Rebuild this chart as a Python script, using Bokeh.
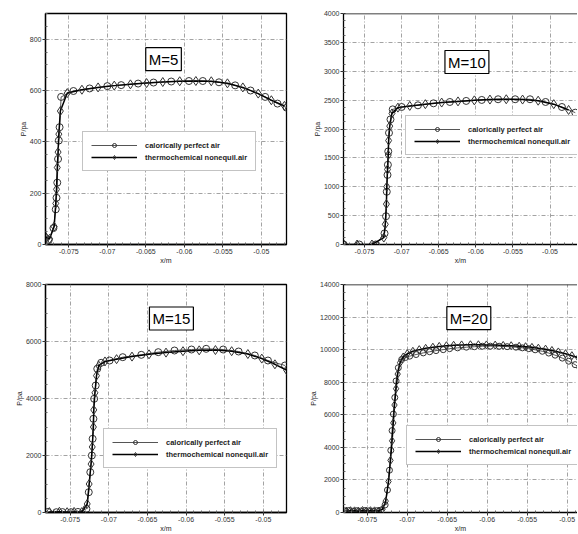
from bokeh.plotting import figure
from bokeh.layouts import row, column
from bokeh.models import Label, Legend, LegendItem, FixedTicker, Range1d, Span
from bokeh.embed import file_html
from bokeh.resources import INLINE
import numpy as np

# ---------------- data ----------------
series_names = ["calorically perfect air", "thermochemical nonequil.air"]
panel_titles = ["M=5", "M=10", "M=15", "M=20"]

x_ticks = [-0.075, -0.07, -0.065, -0.06, -0.055, -0.05]
x_tick_labels = ["-0.075", "-0.07", "-0.065", "-0.06", "-0.055", "-0.05"]
y_ticks_5 = [0, 200, 400, 600, 800]
y_ticks_10 = [0, 500, 1000, 1500, 2000, 2500, 3000, 3500, 4000]
y_ticks_15 = [0, 2000, 4000, 6000, 8000]
y_ticks_20 = [0, 2000, 4000, 6000, 8000, 10000, 12000, 14000]

# M = 5
x_cpa_5 = [-0.0780, -0.0776, -0.0770, -0.0767, -0.0766, -0.0765, -0.0764, -0.0763, -0.0762, -0.0760,
           -0.0744, -0.0723, -0.0700, -0.0682, -0.0660, -0.0640, -0.0617, -0.0594, -0.0576, -0.0555,
           -0.0534, -0.0514, -0.0495, -0.0479, -0.0467]
p_cpa_5 = [25, 18, 64, 137, 182, 241, 333, 405, 457, 575,
           598, 608, 617, 621, 627, 631, 635, 637, 637, 632,
           620, 600, 575, 549, 533]
x_tne_5 = [-0.0780, -0.0775, -0.0769, -0.0767, -0.0766, -0.0765, -0.0764, -0.0763, -0.0761, -0.0752,
           -0.0733, -0.0712, -0.0691, -0.0670, -0.0649, -0.0628, -0.0606, -0.0585, -0.0565, -0.0544,
           -0.0524, -0.0504, -0.0487, -0.0470]
p_tne_5 = [30, 22, 70, 160, 215, 300, 360, 430, 520, 590,
           603, 612, 619, 624, 629, 633, 636, 637, 636, 628,
           612, 588, 562, 540]

# M = 10
x_cpa_10 = [-0.0778, -0.0757, -0.0735, -0.0723, -0.0721, -0.0720, -0.0719, -0.07185, -0.0718, -0.0717,
            -0.0715, -0.0712, -0.0700, -0.0678, -0.0657, -0.0635, -0.0613, -0.0592, -0.0570, -0.0547,
            -0.0527, -0.0506, -0.0484, -0.0466]
p_cpa_10 = [0, 0, 0, 192, 489, 914, 1205, 1380, 1612, 1933,
            2166, 2340, 2381, 2410, 2445, 2468, 2486, 2503, 2515, 2515,
            2515, 2468, 2381, 2283]
x_tne_10 = [-0.0778, -0.0760, -0.0740, -0.0724, -0.0722, -0.07205, -0.0720, -0.0719, -0.0718, -0.07175,
            -0.0716, -0.0713, -0.0705, -0.0689, -0.0668, -0.0646, -0.0624, -0.0602, -0.0581, -0.0559,
            -0.0537, -0.0516, -0.0495, -0.0475]
p_tne_10 = [0, 0, 0, 120, 350, 700, 1000, 1300, 1550, 1800,
            2050, 2270, 2370, 2400, 2430, 2458, 2478, 2496, 2510, 2515,
            2510, 2490, 2430, 2330]

# M = 15
x_cpa_15 = [-0.0779, -0.0768, -0.0760, -0.0749, -0.0740, -0.0729, -0.0726, -0.0724, -0.0722, -0.0721,
            -0.0720, -0.0719, -0.0717, -0.0715, -0.0710, -0.0699, -0.0682, -0.0658, -0.0636, -0.0615,
            -0.0593, -0.0574, -0.0552, -0.0532, -0.0511, -0.0494, -0.0472]
p_cpa_15 = [20, 10, 15, 10, 20, 130, 712, 1414, 2000, 2586,
            3288, 3990, 4456, 5042, 5253, 5333, 5450, 5532, 5626, 5684,
            5719, 5743, 5719, 5649, 5509, 5333, 5158]
x_tne_15 = [-0.0777, -0.0764, -0.0754, -0.0745, -0.0735, -0.0728, -0.07255, -0.0723, -0.07215, -0.0720,
            -0.07195, -0.0718, -0.0716, -0.0713, -0.0705, -0.0690, -0.0670, -0.0648, -0.0626, -0.0604,
            -0.0583, -0.0562, -0.0541, -0.0520, -0.0502, -0.0485, -0.0470]
p_tne_15 = [15, 25, 10, 20, 15, 300, 1000, 1700, 2300, 3000,
            3600, 4200, 4800, 5150, 5300, 5380, 5470, 5550, 5610, 5660,
            5690, 5700, 5660, 5560, 5400, 5200, 5000]

# M = 20
x_cpa_20 = [-0.0778, -0.0773, -0.0768, -0.0763, -0.0758, -0.0753, -0.0748, -0.0743, -0.0738, -0.0733,
            -0.07277, -0.07248, -0.07223, -0.07206, -0.0719, -0.07174, -0.07156, -0.0714, -0.07112, -0.0707,
            -0.0702, -0.0697, -0.0689, -0.0680, -0.0672, -0.0664, -0.0655, -0.0647, -0.0637, -0.0626,
            -0.0616, -0.0606, -0.0596, -0.0585, -0.0575, -0.0564, -0.0556, -0.0548, -0.0540, -0.0531,
            -0.0523, -0.0515, -0.0506, -0.0498, -0.0490, -0.0484]
p_cpa_20 = [100, 120, 80, 110, 90, 120, 100, 80, 110, 150,
            468, 1380, 2597, 3815, 5030, 6045, 7060, 8077, 8887, 9392,
            9520, 9600, 9700, 9800, 9870, 9940, 10000, 10060, 10110, 10150,
            10180, 10210, 10215, 10210, 10185, 10150, 10110, 10060, 9990, 9900,
            9790, 9660, 9480, 9290, 9080, 8890]
x_tne_20 = [-0.0776, -0.0771, -0.0766, -0.0761, -0.0756, -0.0751, -0.0746, -0.0741, -0.0736, -0.0731,
            -0.0727, -0.07235, -0.0721, -0.0719, -0.07175, -0.0716, -0.0714, -0.0712, -0.0709, -0.0705,
            -0.0700, -0.0693, -0.0685, -0.0677, -0.0668, -0.0660, -0.0651, -0.0642, -0.0632, -0.0621,
            -0.0611, -0.0601, -0.0590, -0.0580, -0.0570, -0.0560, -0.0552, -0.0544, -0.0536, -0.0527,
            -0.0519, -0.0511, -0.0502, -0.0494, -0.0486]
p_tne_20 = [90, 110, 100, 80, 120, 90, 110, 100, 90, 200,
            700, 1900, 3200, 4400, 5500, 6600, 7600, 8500, 9200, 9550,
            9750, 9900, 10000, 10080, 10150, 10200, 10240, 10270, 10290, 10300,
            10300, 10290, 10280, 10260, 10240, 10210, 10180, 10140, 10090, 10030,
            9950, 9860, 9750, 9630, 9500]

FONT = "Liberation Sans"


def make_panel(xa, pa, xb, pb, yticks, xr, yr, title, title_xy, leg_loc,
               width, height, borders, right_side, marker_size=7):
    p = figure(width=width, height=height, output_backend="svg", toolbar_location=None,
               x_range=Range1d(*xr), y_range=Range1d(*yr),
               min_border_left=borders[0], min_border_right=borders[1],
               min_border_top=borders[2], min_border_bottom=borders[3],
               background_fill_color="white", border_fill_color="white")
    if right_side:
        # the reference crops these panels at the right edge: draw only the top edge
        p.outline_line_color = None
        p.add_layout(Span(location=yr[1], dimension="width", line_color="black",
                          line_width=1.3))
    else:
        p.outline_line_color = "black"
        p.outline_line_width = 1.3
        p.outline_line_alpha = 1.0

    minor_x = list(np.arange(-0.078, -0.045, 0.001))
    p.xaxis.ticker = FixedTicker(ticks=x_ticks, minor_ticks=minor_x)
    p.xaxis.major_label_overrides = dict(zip(x_ticks, x_tick_labels))
    step = yticks[1] - yticks[0]
    minor_y = list(np.arange(0, yticks[-1] + step, step / 4))
    p.yaxis.ticker = FixedTicker(ticks=yticks, minor_ticks=minor_y)

    for ax in (p.below[0], p.left[0]):
        ax.axis_line_color = "black"
        ax.axis_line_width = 1.3
        ax.major_tick_out = 3
        ax.major_tick_in = 0
        ax.minor_tick_out = 0
        ax.minor_tick_in = 2
        ax.major_tick_line_color = "#333333"
        ax.minor_tick_line_color = "#666666"
        ax.major_label_text_font = FONT
        ax.major_label_text_font_size = "7px"
        ax.major_label_text_color = "#333333"
        ax.major_label_standoff = 1
        ax.axis_label_text_font = FONT
        ax.axis_label_text_font_size = "7px"
        ax.axis_label_text_font_style = "normal"
        ax.axis_label_text_color = "#222222"
        ax.axis_label_standoff = 0
    p.below[0].axis_label = "x/m"
    p.left[0].axis_label = "P/pa"

    p.grid.grid_line_color = "#999999"
    p.grid.grid_line_dash = "4 2 1 2"
    p.grid.grid_line_width = 0.9

    la = p.line(xa, pa, line_color="#555555", line_width=1.0)
    sa = p.scatter(xa, pa, marker="circle", size=marker_size, line_color="#333333",
                   fill_color=None, line_width=1.0)
    lb = p.line(xb, pb, line_color="black", line_width=1.5)
    sb = p.scatter(xb, pb, marker="diamond", size=marker_size + 2, line_color="#333333",
                   fill_color=None, line_width=1.0)

    legend = Legend(items=[LegendItem(label=series_names[0], renderers=[la, sa]),
                           LegendItem(label=series_names[1], renderers=[lb, sb])],
                    location=leg_loc)
    legend.label_text_font = FONT
    legend.label_text_font_size = "7.5px"
    legend.label_text_font_style = "bold"
    legend.label_text_color = "#222222"
    legend.glyph_width = 46
    legend.glyph_height = 10
    legend.label_height = 10
    legend.label_standoff = 8
    legend.spacing = 2
    legend.padding = 8
    legend.margin = 0
    legend.border_line_color = "#888888"
    legend.border_line_width = 1
    legend.background_fill_color = "white"
    legend.background_fill_alpha = 1.0
    p.add_layout(legend)

    lbl = Label(x=title_xy[0], y=title_xy[1], text=title, text_align="center",
                text_baseline="middle", text_font=FONT, text_font_size="15px",
                text_color="black", border_line_color="black", border_line_width=1.2,
                background_fill_color="white", background_fill_alpha=1.0, padding=3)
    p.add_layout(lbl)
    return p


# page origin is (0, 0): left column 290 px wide, right column 287 px wide
p1 = make_panel(x_cpa_5, p_cpa_5, x_tne_5, p_tne_5, y_ticks_5,
                (-0.07803, -0.04673), (0, 900), panel_titles[0], (-0.0627, 722), (37, 73),
                290, 266, (45, 4, 13, 22), False)
p2 = make_panel(x_cpa_10, p_cpa_10, x_tne_10, p_tne_10, y_ticks_10,
                (-0.07783, -0.0463), (0, 4000), panel_titles[1], (-0.0612, 3160), (62, 89),
                287, 266, (53, 0, 13, 22), True)
p3 = make_panel(x_cpa_15, p_cpa_15, x_tne_15, p_tne_15, y_ticks_15,
                (-0.0782, -0.0470), (0, 8000), panel_titles[2], (-0.0619, 6807), (58, 44),
                290, 268, (45, 4, 18, 22), False)
p4 = make_panel(x_cpa_20, p_cpa_20, x_tne_20, p_tne_20, y_ticks_20,
                (-0.07798, -0.0487), (0, 14000), panel_titles[3], (-0.0623, 11930), (63, 47),
                287, 268, (53, 0, 18, 22), True, marker_size=6)

layout = column(row(p1, p2), row(p3, p4))
open("out.html", "w").write(file_html(layout, INLINE))
